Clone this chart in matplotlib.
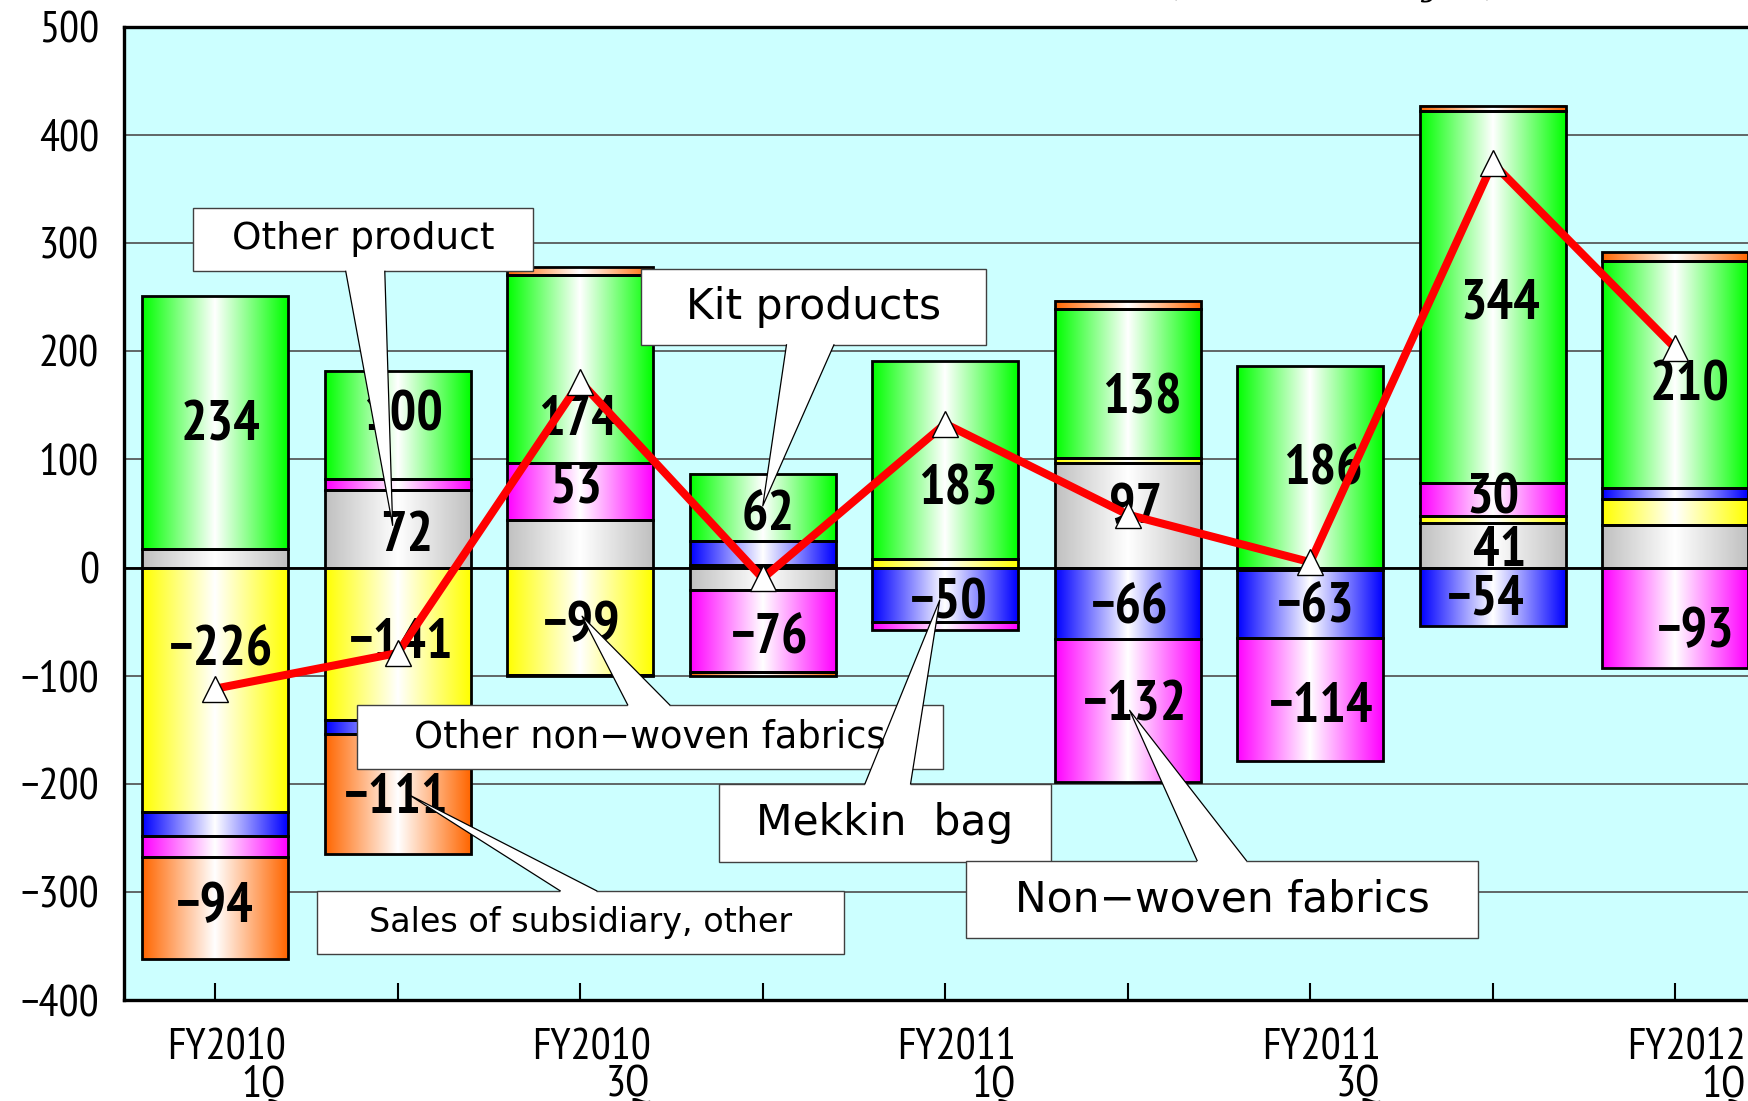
import numpy as np
import matplotlib
matplotlib.use("Agg")
import matplotlib.pyplot as plt
from matplotlib.patches import Rectangle, Polygon

# quarterly change by product line (million yen)
quarters = ["FY2010\n1Q", "", "FY2010\n3Q", "", "FY2011\n1Q", "", "FY2011\n3Q", "", "FY2012\n1Q"]

other_product = [17, 72, 44, -21, 0, 97, -2, 41, 39]
other_nonwoven = [-226, -141, -99, 2, 8, 4, 0, 7, 24]
mekkin_bag = [-22, -13, -1, 23, -50, -66, -63, -54, 11]
nonwoven = [-20, 10, 53, -76, -8, -132, -114, 30, -93]
kit_products = [234, 100, 174, 62, 183, 138, 186, 344, 210]
subsidiary = [-94, -111, 7, -3, 0, 8, 0, 5, 8]

net_total = [-112, -79, 172, -10, 133, 49, 5, 374, 203]

series = [other_product, other_nonwoven, mekkin_bag, nonwoven, kit_products, subsidiary]
colors = [(192, 192, 192), (255, 255, 0), (0, 0, 255), (255, 0, 255), (0, 255, 0), (255, 102, 0)]

# which segments carry a value label: (series, quarter, dx, dy)
labelled = [
    (4, 0, 0.03, -3), (1, 0, 0.03, 36), (5, 0, 0.0, 0),
    (4, 1, 0.03, 8), (0, 1, 0.05, -7), (1, 1, 0.02, 0), (5, 1, -0.01, -4),
    (4, 2, -0.01, -48), (3, 2, -0.02, 3), (1, 2, 0.01, -5),
    (4, 3, 0.03, -8), (3, 3, 0.04, -7),
    (4, 4, 0.07, -28), (2, 4, 0.02, -9),
    (4, 5, 0.08, -14), (0, 5, 0.04, 6), (2, 5, 0.01, -5), (3, 5, 0.04, 4),
    (4, 6, 0.07, -3), (2, 6, 0.03, -4), (3, 6, 0.06, -7),
    (4, 7, 0.04, -6), (3, 7, 0.0, 0), (0, 7, 0.04, -6), (2, 7, -0.04, -3),
    (4, 8, 0.08, -11), (3, 8, 0.11, -14),
]

# callouts: text, box (x0, x1, y0, y1), font size, wedge base (xa, xb, y), tip (x, y)
callouts = [
    ("Other product", (-0.122, 1.742, 274, 333), 27, (0.715, 0.929, 274), (0.972, 39)),
    ("Kit products", (2.335, 4.224, 206, 276), 30.5, (3.13, 3.39, 206), (3.0, 57)),
    ("Other non\u2212woven fabrics", (0.776, 3.985, -186, -127), 26.5, (2.26, 2.49, -127), (2.01, -45)),
    ("Mekkin  bag", (2.763, 4.578, -272, -200), 30.5, (3.56, 3.81, -200), (3.97, -30)),
    ("Non\u2212woven fabrics", (4.114, 6.919, -343, -271), 30.5, (5.38, 5.65, -271), (5.01, -132)),
    ("Sales of subsidiary, other", (0.556, 3.447, -357, -299), 24, (1.89, 2.09, -299), (1.06, -210)),
]

narrow = ["PT Sans Narrow", "IBM Plex Sans Condensed", "DejaVu Sans"]
bar_w = 0.8


def gradient(rgb):
    c = np.array(rgb) / 255.0
    u = np.linspace(0, 1, 256)
    t = np.abs(2 * u - 1)[:, None]
    g = (1 - t) * np.ones(3) + t * c
    return g[None, :, :]


fig = plt.figure(figsize=(17.49, 11.01), dpi=100)
ax = fig.add_axes([0.0709, 0.0917, 0.9391, 0.8838])
ax.set_facecolor("#CCFFFF")

pos_base = np.zeros(9)
neg_base = np.zeros(9)
seg = {}
for s, (vals, col) in enumerate(zip(series, colors)):
    img = gradient(col)
    for i, v in enumerate(vals):
        if v == 0:
            continue
        if v > 0:
            y0, y1 = pos_base[i], pos_base[i] + v
            pos_base[i] = y1
        else:
            y0, y1 = neg_base[i] + v, neg_base[i]
            neg_base[i] = y0
        seg[(s, i)] = (y0, y1)
        ax.imshow(img, extent=(i - bar_w / 2, i + bar_w / 2, y0, y1), aspect="auto",
                  interpolation="bilinear", zorder=2)
        ax.add_patch(Rectangle((i - bar_w / 2, y0), bar_w, y1 - y0, fill=False,
                               ec="black", lw=2.0, zorder=3))

for s, i, dx, dy in labelled:
    y0, y1 = seg[(s, i)]
    v = series[s][i]
    txt = f"{v}".replace("-", "\u2212")
    ax.text(i + dx, (y0 + y1) / 2 + dy, txt, ha="center", va="center",
            fontsize=40, fontweight="bold", family=narrow, zorder=4)

ax.plot(range(9), net_total, color="#FF0000", lw=5.8, marker="^", ms=19,
        mfc="white", mec="black", mew=1.0, zorder=6, solid_joinstyle="miter")

for text, (x0, x1, y0, y1), fs, (xa, xb, yb), (tx, ty) in callouts:
    ax.add_patch(Rectangle((x0, y0), x1 - x0, y1 - y0, fc="white", ec="#404040",
                           lw=1.0, zorder=10))
    into = 3 if yb == y0 else -3
    ax.add_patch(Polygon([(xa, yb + into), (xb, yb + into), (xb, yb), (tx, ty), (xa, yb)],
                         closed=True, fc="white", ec="none", zorder=11))
    ax.plot([xa, tx, xb], [yb, ty, yb], color="black", lw=0.9, zorder=12)
    ax.text((x0 + x1) / 2, (y0 + y1) / 2, text, ha="center", va="center",
            fontsize=fs, family="DejaVu Sans", zorder=13)

ax.set_xlim(-0.5, 8.5)
ax.set_ylim(-400, 500)
ax.set_yticks(range(-400, 501, 100))
ax.yaxis.grid(True, color="#4d4d4d", lw=1.2)
ax.set_axisbelow(True)
ax.axhline(0, color="black", lw=2.0, zorder=1.5)

# quarter labels sit a little right of their tick, right-aligned in two lines
ax.set_xticks(range(9))
ax.set_xticklabels([])
for i, q in enumerate(quarters):
    if q:
        ax.text(i + 0.06, -0.028, q, transform=ax.get_xaxis_transform(), ha="center",
                va="top", multialignment="right", fontsize=32, family=narrow,
                linespacing=0.93, clip_on=False)
ax.tick_params(axis="x", direction="in", length=12, width=1.5)
ax.tick_params(axis="y", length=0, pad=18, labelsize=32)
for lab in ax.get_yticklabels():
    lab.set_family(narrow)

for side in ("left", "bottom", "top"):
    ax.spines[side].set_linewidth(2.4)
ax.spines["right"].set_visible(False)

fig.text(0.763, 1.005, "(Unit: million yen)", ha="center", va="baseline",
         fontsize=26, family="DejaVu Serif", style="italic")

fig.savefig("out.png", dpi=100)
